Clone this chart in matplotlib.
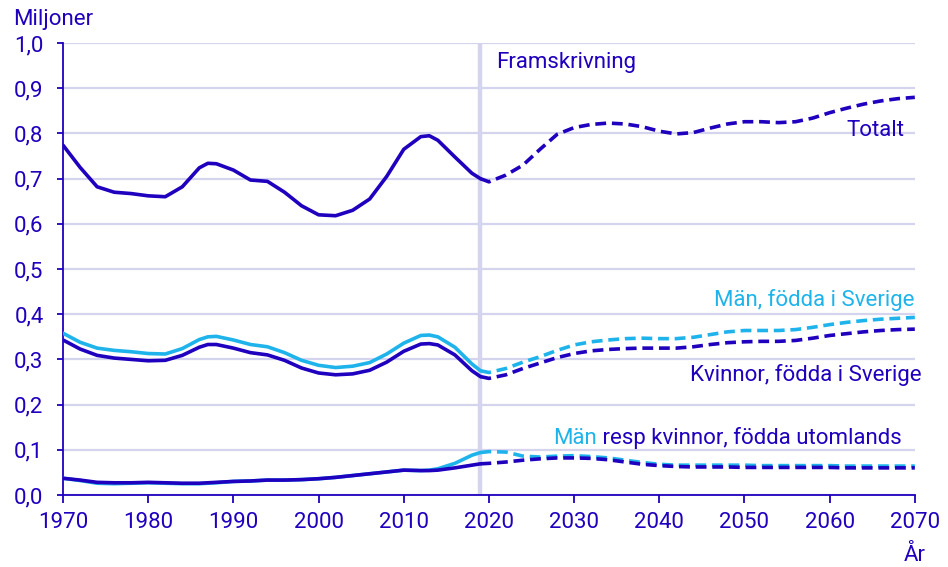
import matplotlib.pyplot as plt
import numpy as np

plt.rcParams['font.family'] = ['Roboto', 'DejaVu Sans']

DARK = '#1E00BE'
LIGHT = '#1EB4EB'
GRID = '#D4D4EE'

# historical (solid) and projection (dashed), value in millions
hist_years = [1970, 1972, 1974, 1976, 1978, 1980, 1982, 1984, 1986, 1987, 1988, 1990,
              1992, 1994, 1996, 1998, 2000, 2002, 2004, 2006, 2008, 2010, 2012, 2013,
              2014, 2016, 2018, 2019]
total_hist = [0.774, 0.725, 0.682, 0.670, 0.667, 0.662, 0.660, 0.682, 0.724, 0.734,
              0.733, 0.719, 0.697, 0.694, 0.670, 0.640, 0.620, 0.618, 0.630, 0.655,
              0.705, 0.765, 0.793, 0.795, 0.785, 0.748, 0.712, 0.700]
men_se_hist = [0.358, 0.338, 0.325, 0.320, 0.317, 0.313, 0.312, 0.324, 0.344, 0.350,
               0.351, 0.343, 0.333, 0.328, 0.315, 0.298, 0.287, 0.282, 0.285, 0.293,
               0.312, 0.336, 0.353, 0.354, 0.350, 0.327, 0.290, 0.275]
women_se_hist = [0.343, 0.323, 0.309, 0.303, 0.300, 0.297, 0.298, 0.309, 0.327, 0.333,
                 0.333, 0.325, 0.315, 0.310, 0.298, 0.281, 0.270, 0.266, 0.268, 0.276,
                 0.294, 0.318, 0.334, 0.335, 0.332, 0.310, 0.275, 0.262]
men_fb_hist = [0.037, 0.032, 0.026, 0.025, 0.026, 0.027, 0.026, 0.025, 0.025, 0.026,
               0.027, 0.030, 0.031, 0.033, 0.033, 0.034, 0.036, 0.039, 0.043, 0.047,
               0.051, 0.055, 0.054, 0.055, 0.058, 0.070, 0.088, 0.094]
women_fb_hist = [0.037, 0.033, 0.028, 0.027, 0.027, 0.028, 0.027, 0.026, 0.026, 0.027,
                 0.028, 0.030, 0.031, 0.033, 0.033, 0.034, 0.036, 0.039, 0.043, 0.047,
                 0.051, 0.055, 0.054, 0.054, 0.055, 0.060, 0.066, 0.069]

proj_years = [2019, 2020, 2022, 2024, 2026, 2028, 2030, 2032, 2034, 2036, 2038, 2040,
              2042, 2044, 2046, 2048, 2050, 2052, 2054, 2056, 2058, 2060, 2062, 2064,
              2066, 2068, 2070]
total_proj = [0.700, 0.693, 0.708, 0.730, 0.765, 0.798, 0.813, 0.820, 0.823, 0.821,
              0.815, 0.805, 0.799, 0.802, 0.812, 0.821, 0.826, 0.826, 0.824, 0.826,
              0.834, 0.846, 0.856, 0.865, 0.872, 0.877, 0.880]
men_se_proj = [0.275, 0.271, 0.280, 0.294, 0.306, 0.320, 0.332, 0.339, 0.343, 0.346,
               0.347, 0.346, 0.346, 0.349, 0.355, 0.361, 0.364, 0.364, 0.364, 0.366,
               0.371, 0.377, 0.382, 0.386, 0.389, 0.391, 0.393]
women_se_proj = [0.262, 0.258, 0.266, 0.280, 0.292, 0.304, 0.313, 0.319, 0.322, 0.324,
                 0.325, 0.325, 0.325, 0.328, 0.333, 0.337, 0.339, 0.340, 0.340, 0.342,
                 0.347, 0.353, 0.357, 0.361, 0.364, 0.366, 0.367]
men_fb_proj = [0.094, 0.096, 0.095, 0.086, 0.084, 0.086, 0.087, 0.085, 0.082, 0.077,
               0.072, 0.068, 0.066, 0.066, 0.066, 0.066, 0.066, 0.065, 0.065, 0.065,
               0.065, 0.065, 0.064, 0.064, 0.064, 0.064, 0.064]
women_fb_proj = [0.069, 0.070, 0.073, 0.077, 0.080, 0.082, 0.082, 0.081, 0.078, 0.073,
                 0.068, 0.065, 0.063, 0.062, 0.062, 0.062, 0.061, 0.061, 0.061, 0.061,
                 0.061, 0.061, 0.060, 0.060, 0.060, 0.060, 0.060]

x_ticks = list(range(1970, 2071, 10))
y_ticks = np.arange(0, 1.01, 0.1)
forecast_start = 2019

fig = plt.figure(figsize=(9.48, 5.67), dpi=100)
ax = fig.add_axes([0.0665, 0.127, 0.8985, 0.797])

lw = 2.6
dash = (3, 1.6)
series = [
    (men_fb_hist, men_fb_proj, LIGHT),
    (women_fb_hist, women_fb_proj, DARK),
    (men_se_hist, men_se_proj, LIGHT),
    (women_se_hist, women_se_proj, DARK),
    (total_hist, total_proj, DARK),
]
for hist, proj, col in series:
    ax.plot(hist_years, hist, color=col, lw=lw, solid_capstyle='round', zorder=3)
    ax.plot(proj_years, proj, color=col, lw=lw, dashes=dash, zorder=3)

ax.axvline(forecast_start, color=GRID, lw=3.2, zorder=1)

ax.set_xlim(1970, 2070)
ax.set_ylim(0, 1.0)
ax.set_xticks(x_ticks)
ax.set_yticks(y_ticks)
ax.set_yticklabels([f"{v:.1f}".replace('.', ',') for v in y_ticks])
ax.yaxis.grid(True, color=GRID, lw=1.6, zorder=0)
ax.set_axisbelow(True)

for s in ['top', 'right']:
    ax.spines[s].set_visible(False)
for s in ['left', 'bottom']:
    ax.spines[s].set_color(DARK)
    ax.spines[s].set_linewidth(1.3)
fs = 16
ax.tick_params(colors=DARK, labelsize=fs, width=1.3)
ax.tick_params(axis='y', length=4, pad=10)
ax.tick_params(axis='x', length=6, pad=6)

ax.text(0.014, 0.965, 'Miljoner', transform=fig.transFigure, color=DARK, fontsize=fs,
        ha='left', va='center')
ax.text(0.976, 0.02, 'År', transform=fig.transFigure, color=DARK, fontsize=fs,
        ha='right', va='center')

ax.text(2020.8, 0.958, 'Framskrivning', color=DARK, fontsize=fs, ha='left', va='center')
ax.text(2068.8, 0.807, 'Totalt', color=DARK, fontsize=fs, ha='right', va='center')
ax.text(2070, 0.431, 'Män, födda i Sverige', color=LIGHT, fontsize=fs, ha='right', va='center')
ax.text(2070.8, 0.265, 'Kvinnor, födda i Sverige', color=DARK, fontsize=fs,
        ha='right', va='center', clip_on=False)
t = ax.text(2027.5, 0.126, 'Män', color=LIGHT, fontsize=fs, ha='left', va='center')
ax.annotate(' resp kvinnor, födda utomlands', xycoords=t, xy=(1, 0.5), va='center',
            ha='left', color=DARK, fontsize=fs)

fig.savefig('out.png', dpi=100)
